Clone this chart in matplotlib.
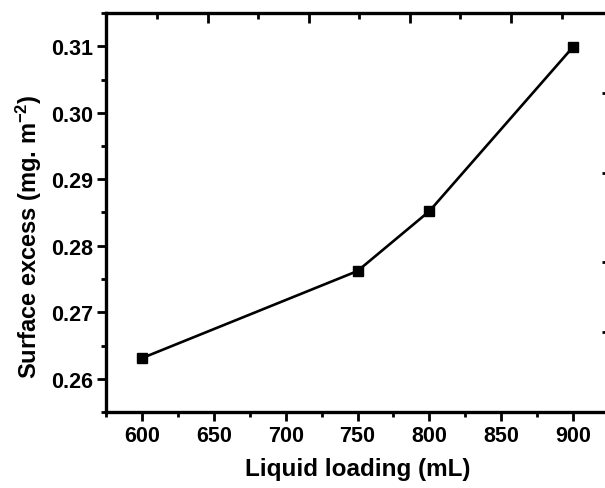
import matplotlib
matplotlib.use("Agg")
import matplotlib.pyplot as plt
from matplotlib.ticker import MultipleLocator, FixedLocator, NullFormatter

plt.rcParams['font.family'] = ['Liberation Sans', 'DejaVu Sans']
plt.rcParams['font.weight'] = 'bold'
plt.rcParams['mathtext.fontset'] = 'custom'
plt.rcParams['mathtext.bf'] = 'Liberation Sans:bold'
plt.rcParams['mathtext.rm'] = 'Liberation Sans:bold'
plt.rcParams['mathtext.default'] = 'bf'

# data
liquid_loading = [600, 750, 800, 900]
surface_excess = [0.2631, 0.2762, 0.2852, 0.3099]

x_ticks = [600, 650, 700, 750, 800, 850, 900]
y_ticks = [0.26, 0.27, 0.28, 0.29, 0.30, 0.31]
y_tick_labels = ["0.26", "0.27", "0.28", "0.29", "0.30", "0.31"]

# secondary (cropped) axis tick positions, in data units of the main axes
top_major = [645.9, 716.2, 786.6, 856.6]
top_minor = [610.6, 680.9, 751.1, 821.3, 892.1]
right_ticks = [0.3029, 0.2909, 0.2776, 0.2670]

W, H = 605, 489
fig = plt.figure(figsize=(W / 100, H / 100), dpi=100)
ax = fig.add_axes([106 / W, 1 - 413 / H, 503 / W, 399 / H])

ax.plot(liquid_loading, surface_excess, color='black', lw=1.9,
        marker='s', markersize=6.5, markerfacecolor='black', markeredgecolor='black')

ax.set_xlim(575, 925)
ax.set_ylim(0.255, 0.315)
ax.set_xticks(x_ticks)
ax.xaxis.set_minor_locator(MultipleLocator(25))
ax.set_yticks(y_ticks)
ax.set_yticklabels(y_tick_labels)
ax.yaxis.set_minor_locator(MultipleLocator(0.005))

for s in ax.spines.values():
    s.set_linewidth(2.4)
ax.spines['right'].set_visible(False)

ax.tick_params(axis='both', which='major', direction='out', length=6.5, width=2.0, pad=3)
ax.tick_params(axis='both', which='minor', direction='out', length=3.5, width=2.0)
ax.tick_params(top=False, right=False, which='both')
for lbl in ax.get_xticklabels() + ax.get_yticklabels():
    lbl.set_fontweight('bold')
    lbl.set_fontsize(15.5)

ax.set_xlabel("Liquid loading (mL)", fontsize=17.5, fontweight='bold', labelpad=8)

fig.text(29 / W, 1 - 237 / H, r"Surface excess (mg. m$^{\mathbf{-2}}$)", rotation=90,
         ha='center', va='center', fontsize=17, fontweight='bold')

# top axis ticks (inward)
axt = ax.twiny()
axt.set_xlim(ax.get_xlim())
axt.xaxis.set_major_locator(FixedLocator(top_major))
axt.xaxis.set_minor_locator(FixedLocator(top_minor))
axt.xaxis.set_major_formatter(NullFormatter())
axt.tick_params(axis='x', which='major', direction='in', length=7, width=2.0, top=True, labeltop=False)
axt.tick_params(axis='x', which='minor', direction='in', length=4.5, width=2.0, top=True)
for s in axt.spines.values():
    s.set_visible(False)

# right axis ticks (inward)
axr = ax.twinx()
axr.set_ylim(ax.get_ylim())
axr.yaxis.set_major_locator(FixedLocator(right_ticks))
axr.yaxis.set_minor_locator(FixedLocator([]))
axr.yaxis.set_major_formatter(NullFormatter())
axr.tick_params(axis='y', which='major', direction='in', length=5, width=2.0, right=True, labelright=False)
for s in axr.spines.values():
    s.set_visible(False)

fig.savefig("out.png", dpi=100)
